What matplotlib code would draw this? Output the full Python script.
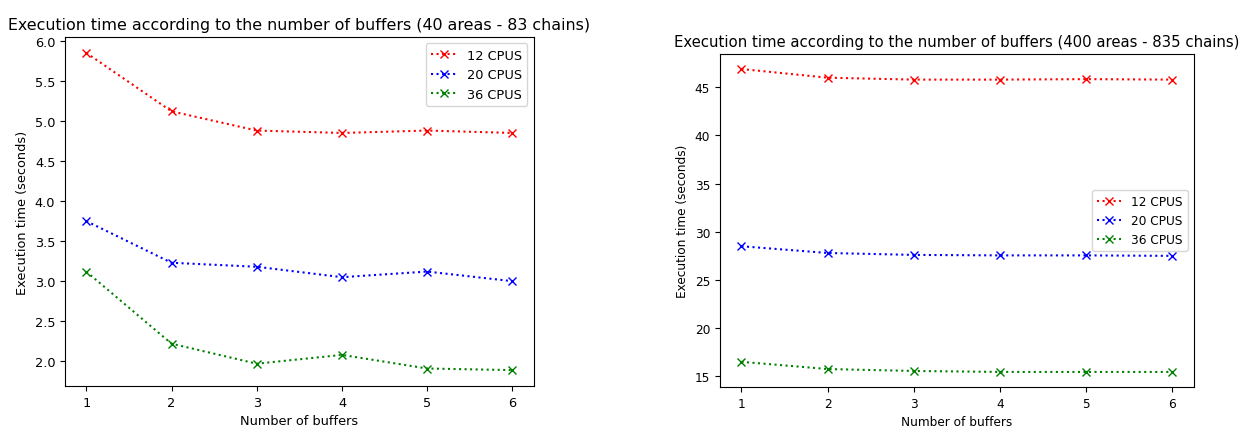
import matplotlib
matplotlib.use("Agg")
import matplotlib.pyplot as plt

buffers = [1, 2, 3, 4, 5, 6]
labels = ["12 CPUS", "20 CPUS", "36 CPUS"]
colors = ["r", "b", "g"]

# 40 areas - 83 chains
small_12 = [5.85, 5.12, 4.88, 4.85, 4.88, 4.85]
small_20 = [3.75, 3.23, 3.18, 3.05, 3.12, 3.00]
small_36 = [3.12, 2.22, 1.97, 2.08, 1.91, 1.89]

# 400 areas - 835 chains
big_12 = [46.9, 46.0, 45.8, 45.8, 45.85, 45.8]
big_20 = [28.5, 27.8, 27.6, 27.55, 27.55, 27.5]
big_36 = [16.5, 15.75, 15.55, 15.45, 15.45, 15.45]

fig = plt.figure(figsize=(12.4, 4.39), dpi=100)
ax1 = fig.add_axes([0.0524, 0.1185, 0.378, 0.795])
ax2 = fig.add_axes([0.5806, 0.116, 0.382, 0.759])

def draw(ax, series, title, legend_loc, scale):
    for vals, lab, c in zip(series, labels, colors):
        ax.plot(buffers, vals, linestyle=":", marker="x", color=c, label=lab)
    ax.set_title(title, fontsize=11.4 * scale)
    ax.set_xlabel("Number of buffers", fontsize=9.3 * scale)
    ax.set_ylabel("Execution time (seconds)", fontsize=9.3 * scale)
    ax.tick_params(labelsize=9.3 * scale)
    ax.legend(loc=legend_loc, fontsize=9.3 * scale)

draw(ax1, [small_12, small_20, small_36],
     "Execution time according to the number of buffers (40 areas - 83 chains)", "upper right", 1.0)
draw(ax2, [big_12, big_20, big_36],
     "Execution time according to the number of buffers (400 areas - 835 chains)", "center right", 0.94)

fig.savefig("out.png", dpi=100)
